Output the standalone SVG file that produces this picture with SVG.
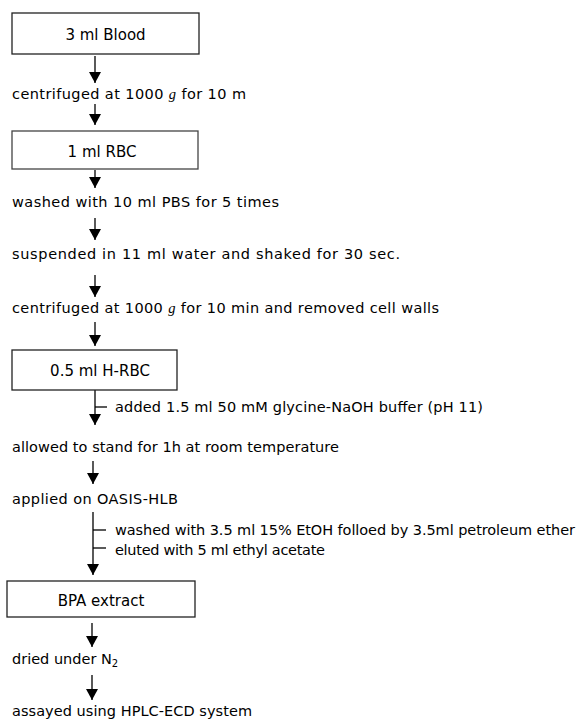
<svg xmlns="http://www.w3.org/2000/svg" width="580" height="722" viewBox="0 0 580 722">
<style>
.box{fill:#fff;stroke:#222;stroke-width:1.3}
.t{font-family:"DejaVu Sans","Liberation Sans",sans-serif;font-size:14.5px;fill:#000}
.bt{font-family:"DejaVu Sans","Liberation Sans",sans-serif;font-size:15px;fill:#000;text-anchor:middle}
.g{font-family:"Liberation Serif",serif;font-style:italic}
.c{stroke:#000;stroke-width:1.3;fill:none}
</style>
<defs>
<marker id="ah" markerUnits="userSpaceOnUse" markerWidth="12" markerHeight="12" refX="11" refY="6" orient="auto">
<path d="M0,0 L11,6 L0,12 z" fill="#000"/>
</marker>
</defs>
<rect width="580" height="722" fill="#fff"/>
<g id="connectors">
<path class="c" d="M95,56 V83" marker-end="url(#ah)"/>
<path class="c" d="M95,104 V125" marker-end="url(#ah)"/>
<path class="c" d="M95,170 V188" marker-end="url(#ah)"/>
<path class="c" d="M95,218 V240" marker-end="url(#ah)"/>
<path class="c" d="M95,275 V297" marker-end="url(#ah)"/>
<path class="c" d="M95,322 V346" marker-end="url(#ah)"/>
<path class="c" d="M95,390 V425" marker-end="url(#ah)"/>
<path class="c" d="M95,407 H107"/>
<path class="c" d="M93,461 V484" marker-end="url(#ah)"/>
<path class="c" d="M93,512 V575" marker-end="url(#ah)"/>
<path class="c" d="M93,530 H106"/>
<path class="c" d="M93,548 H106"/>
<path class="c" d="M92,623 V647" marker-end="url(#ah)"/>
<path class="c" d="M92,675 V700" marker-end="url(#ah)"/>
</g>
<g id="blood"><rect class="box" x="12" y="13" width="187" height="41"/><text class="bt" x="105.5" y="40">3 ml Blood</text></g>
<g id="step1"><text class="t" x="12" y="99" textLength="234" lengthAdjust="spacing">centrifuged at 1000 <tspan class="g">g</tspan> for 10 m</text></g>
<g id="rbc"><rect class="box" x="12" y="131" width="186" height="38" style="stroke:#444"/><text class="bt" x="102" y="157">1 ml RBC</text></g>
<g id="step2"><text class="t" x="12" y="207" textLength="267" lengthAdjust="spacing">washed with 10 ml PBS for 5 times</text></g>
<g id="step3"><text class="t" x="12" y="259" textLength="388" lengthAdjust="spacing">suspended in 11 ml water and shaked for 30 sec.</text></g>
<g id="step4"><text class="t" x="12" y="313" textLength="427" lengthAdjust="spacing">centrifuged at 1000 <tspan class="g">g</tspan> for 10 min and removed cell walls</text></g>
<g id="hrbc"><rect class="box" x="12" y="350" width="165" height="40"/><text class="bt" x="100" y="376">0.5 ml H-RBC</text></g>
<g id="add1"><text class="t" x="115" y="412" textLength="368" lengthAdjust="spacing">added 1.5 ml 50 mM glycine-NaOH buffer (pH 11)</text></g>
<g id="step5"><text class="t" x="12" y="452" textLength="327" lengthAdjust="spacing">allowed to stand for 1h at room temperature</text></g>
<g id="step6"><text class="t" x="12" y="504" textLength="166" lengthAdjust="spacing">applied on OASIS-HLB</text></g>
<g id="wash2"><text class="t" x="115" y="535" textLength="460" lengthAdjust="spacing">washed with 3.5 ml 15% EtOH folloed by 3.5ml petroleum ether</text></g>
<g id="elute"><text class="t" x="115" y="555" textLength="210" lengthAdjust="spacing">eluted with 5 ml ethyl acetate</text></g>
<g id="bpa"><rect class="box" x="7" y="581" width="188" height="36"/><text class="bt" x="101" y="606">BPA extract</text></g>
<g id="step7"><text class="t" x="12" y="664">dried under N<tspan font-size="10" dy="3">2</tspan></text></g>
<g id="step8"><text class="t" x="12" y="716" textLength="240" lengthAdjust="spacing">assayed using HPLC-ECD system</text></g>
</svg>
